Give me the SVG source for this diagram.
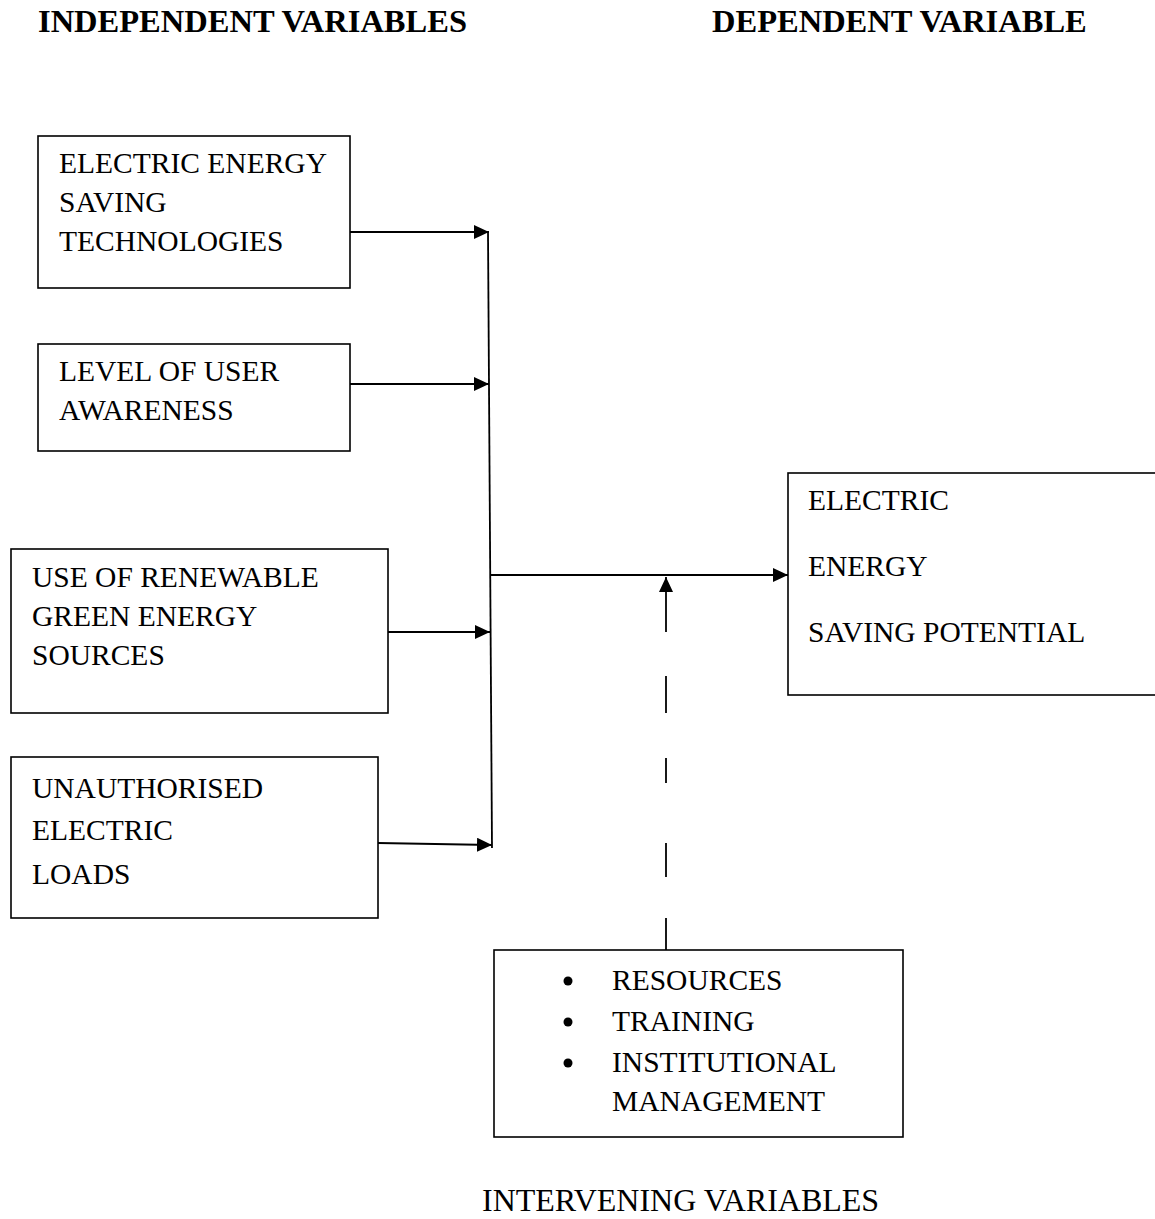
<svg xmlns="http://www.w3.org/2000/svg" width="1155" height="1219" viewBox="0 0 1155 1219">
<style>
.box{fill:#fff;stroke:#000;stroke-width:1.6}
.t{font-family:"Liberation Serif","Times New Roman",serif;font-size:29.5px;fill:#000}
.h{font-family:"Liberation Serif","Times New Roman",serif;font-size:32.5px;font-weight:bold;fill:#000}
.iv{font-family:"Liberation Serif","Times New Roman",serif;font-size:32px;fill:#000}
.ln{stroke:#000;stroke-width:1.8;fill:none}
</style>
<defs>
<marker id="ah" markerUnits="userSpaceOnUse" markerWidth="16" markerHeight="14" refX="15" refY="7" orient="auto">
<path d="M0,0 L15,7 L0,14 Z" fill="#000"/>
</marker>
</defs>
<rect width="1155" height="1219" fill="#fff"/>
<text class="h" x="38" y="32">INDEPENDENT VARIABLES</text>
<text class="h" x="712" y="32">DEPENDENT VARIABLE</text>
<g id="n1">
<rect class="box" x="38" y="136" width="312" height="152"/>
<text class="t" x="59" y="173">ELECTRIC ENERGY</text>
<text class="t" x="59" y="212">SAVING</text>
<text class="t" x="59" y="251">TECHNOLOGIES</text>
</g>
<g id="n2">
<rect class="box" x="38" y="344" width="312" height="107"/>
<text class="t" x="59" y="381">LEVEL OF USER</text>
<text class="t" x="59" y="420">AWARENESS</text>
</g>
<g id="n3">
<rect class="box" x="11" y="549" width="377" height="164"/>
<text class="t" x="32" y="587">USE OF RENEWABLE</text>
<text class="t" x="32" y="626">GREEN ENERGY</text>
<text class="t" x="32" y="665">SOURCES</text>
</g>
<g id="n4">
<rect class="box" x="11" y="757" width="367" height="161"/>
<text class="t" x="32" y="798">UNAUTHORISED</text>
<text class="t" x="32" y="840">ELECTRIC</text>
<text class="t" x="32" y="884">LOADS</text>
</g>
<g id="n5">
<rect class="box" x="788" y="473" width="380" height="222"/>
<text class="t" x="808" y="510">ELECTRIC</text>
<text class="t" x="808" y="576">ENERGY</text>
<text class="t" x="808" y="642">SAVING POTENTIAL</text>
</g>
<g id="n6">
<rect class="box" x="494" y="950" width="409" height="187"/>
<circle cx="568" cy="981" r="4.5" fill="#000"/>
<circle cx="568" cy="1022" r="4.5" fill="#000"/>
<circle cx="568" cy="1063" r="4.5" fill="#000"/>
<text class="t" x="612" y="990">RESOURCES</text>
<text class="t" x="612" y="1031">TRAINING</text>
<text class="t" x="612" y="1072">INSTITUTIONAL</text>
<text class="t" x="612" y="1111">MANAGEMENT</text>
</g>
<text class="iv" x="482" y="1211">INTERVENING VARIABLES</text>
<g id="connectors">
<line class="ln" x1="488" y1="232" x2="492" y2="848"/>
<line class="ln" x1="350" y1="232" x2="489" y2="232" marker-end="url(#ah)"/>
<line class="ln" x1="350" y1="384" x2="489" y2="384" marker-end="url(#ah)"/>
<line class="ln" x1="388" y1="632" x2="490" y2="632" marker-end="url(#ah)"/>
<line class="ln" x1="378" y1="843" x2="492" y2="845" marker-end="url(#ah)"/>
<line class="ln" x1="490" y1="575" x2="788" y2="575" marker-end="url(#ah)"/>
<line class="ln" x1="666" y1="632" x2="666" y2="577" marker-end="url(#ah)"/>
<line class="ln" x1="666" y1="676" x2="666" y2="713"/>
<line class="ln" x1="666" y1="758" x2="666" y2="783"/>
<line class="ln" x1="666" y1="843" x2="666" y2="877"/>
<line class="ln" x1="666" y1="918" x2="666" y2="950"/>
</g>
</svg>
